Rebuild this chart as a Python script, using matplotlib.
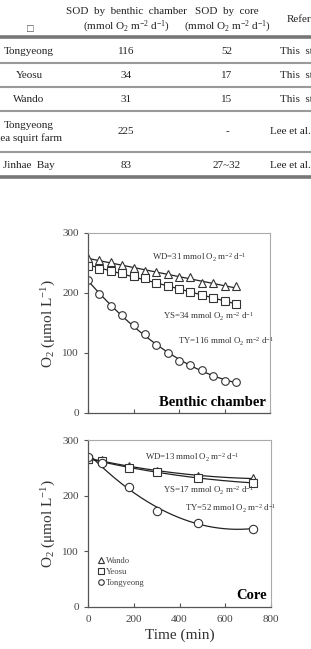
import numpy as np
import matplotlib
matplotlib.use("Agg")
import matplotlib.pyplot as plt
from matplotlib.lines import Line2D

plt.rcParams["font.family"] = ["Liberation Serif", "DejaVu Sans"]
plt.rcParams["mathtext.default"] = "regular"

W, H = 311, 649
UNIT = " mmol O$_2$ m$^{-2}$ d$^{-1}$"

# ---- table data ----
sites = ["Tongyeong", "Yeosu", "Wando", "Tongyeong\nsea squirt farm", "Jinhae  Bay"]
sod_chamber = ["116", "34", "31", "225", "83"]
sod_core = ["52", "17", "15", "-", "27~32"]
refs = ["This  study", "This  study", "This  study", "Lee et al.", "Lee et al."]

# ---- benthic chamber incubation ----
t_ch = [0, 50, 100, 150, 200, 250, 300, 350, 400, 450, 500, 550, 600, 650]
wd_ch = [258, 255, 251, 247, 241, 237, 235, 231, 226, 226, 216, 216, 212, 211]
ys_ch = [245, 240, 237, 233, 229, 225, 216, 212, 206, 202, 197, 191, 187, 181]
ty_ch = [221, 198, 178, 164, 146, 131, 114, 100, 87, 80, 71, 62, 54, 52]

# ---- core incubation ----
t_core = [0, 60, 180, 300, 480, 720]
wd_core = [266, 264, 253, 245, 236, 231]
ys_core = [265, 263, 250, 242, 232, 223]
ty_core = [270, 259, 215, 173, 151, 141]

fig = plt.figure(figsize=(W / 100, H / 100), dpi=100)


def ftext(x, y, s, **kw):           # pixel coords, y from top
    fig.text(x / W, 1 - y / H, s, **kw)


def hline(y, lw, color):
    fig.add_artist(Line2D([0, 1], [1 - y / H, 1 - y / H], lw=lw, color=color))


# ---------- table ----------
ftext(30, 30, "□", ha="center", va="center", fontsize=8, color="#444")
ftext(126, 11, "SOD  by  benthic  chamber", ha="center", va="center", fontsize=8, color="#222")
ftext(126, 27, "(mmol O$_2$ m$^{-2}$ d$^{-1}$)", ha="center", va="center", fontsize=8, color="#222")
ftext(227, 11, "SOD  by  core", ha="center", va="center", fontsize=8, color="#222")
ftext(227, 27, "(mmol O$_2$ m$^{-2}$ d$^{-1}$)", ha="center", va="center", fontsize=8, color="#222")
ftext(287, 20, "Reference", ha="left", va="center", fontsize=8, color="#222")

row_y = [51, 75, 99, 132, 165]
for i, y in enumerate(row_y):
    ftext(29, y, sites[i], ha="center", va="center", fontsize=8, color="#222", linespacing=1.4)
    ftext(126, y, sod_chamber[i], ha="center", va="center", fontsize=8, color="#222")
    ftext(227, y, sod_core[i], ha="center", va="center", fontsize=8, color="#222")
    ftext(280 if i < 3 else 270, y, refs[i], ha="left", va="center", fontsize=8, color="#222")

hline(37, 2.6, "#777")
for y in (63, 87, 111, 152):
    hline(y, 1.5, "#999")
hline(177, 2.6, "#777")


# ---------- plots ----------
def style(ax, xlabels):
    ax.set_xlim(0, 800)
    ax.set_ylim(0, 300)
    ax.set_xticks([0, 200, 400, 600, 800])
    ax.set_yticks([0, 100, 200, 300])
    for s in ("top", "right"):
        ax.spines[s].set_color("#aaa")
        ax.spines[s].set_linewidth(0.8)
    for s in ("left", "bottom"):
        ax.spines[s].set_color("#555")
        ax.spines[s].set_linewidth(0.9)
    ax.tick_params(axis="x", direction="in", length=3, width=0.8, color="#555", pad=6,
                   labelsize=8, labelcolor="#444", labelbottom=xlabels)
    ax.tick_params(axis="y", direction="out", length=3, width=0.8, color="#555",
                   labelsize=8, labelcolor="#444")
    ax.set_ylabel("O$_2$ (μmol L$^{-1}$)", fontsize=11, color="#333")
    ax.yaxis.set_label_coords(-0.165, 0.5)


def series(ax, t, y, marker, deg, ms):
    c = np.polyfit(t, y, deg)
    tt = np.linspace(t[0], t[-1], 200)
    ax.plot(tt, np.polyval(c, tt), color="#222", lw=0.9)
    ax.plot(t, y, ls="none", marker=marker, ms=ms, mfc="white", mec="#333", mew=0.8)


ax1 = fig.add_axes([88 / W, 1 - 413 / H, 182 / W, 180 / H])
style(ax1, False)
series(ax1, t_ch, wd_ch, "^", 1, 5.5)
series(ax1, t_ch, ys_ch, "s", 1, 5.5)
series(ax1, t_ch, ty_ch, "o", 2, 5.5)
ax1.text(280, 258, "WD=31" + UNIT, fontsize=6.4, color="#333", va="center")
ax1.text(330, 160, "YS=34" + UNIT, fontsize=6.4, color="#333", va="center")
ax1.text(395, 118, "TY=116" + UNIT, fontsize=6.4, color="#333", va="center")
ax1.text(780, 18, "Benthic chamber", fontsize=10.5, fontweight="bold", ha="right", va="center")

ax2 = fig.add_axes([88 / W, 1 - 607 / H, 183 / W, 167 / H])
style(ax2, True)
series(ax2, t_core, wd_core, "^", 2, 5.5)
series(ax2, t_core, ys_core, "s", 2, 5.5)
series(ax2, t_core, ty_core, "o", 2, 6)
ax2.text(250, 268, "WD=13" + UNIT, fontsize=6.4, color="#333", va="center")
ax2.text(330, 208, "YS=17" + UNIT, fontsize=6.4, color="#333", va="center")
ax2.text(425, 176, "TY=52" + UNIT, fontsize=6.4, color="#333", va="center")
ax2.text(780, 20, "Core", fontsize=10.5, fontweight="bold", ha="right", va="center")
ax2.set_xlabel("Time (min)", fontsize=11, color="#333", labelpad=3)

handles = [Line2D([], [], ls="none", marker=m, ms=4, mfc="white", mec="#333", mew=0.8)
           for m in ("^", "s", "o")]
ax2.legend(handles, ["Wando", "Yeosu", "Tongyeong"], loc="upper left",
           bbox_to_anchor=(0.03, 0.33), frameon=False, fontsize=6.2, handlelength=0.6,
           handletextpad=0.2, labelspacing=0.35, borderpad=0.1, labelcolor="#444")

fig.savefig("out.png", dpi=100, facecolor="white")
